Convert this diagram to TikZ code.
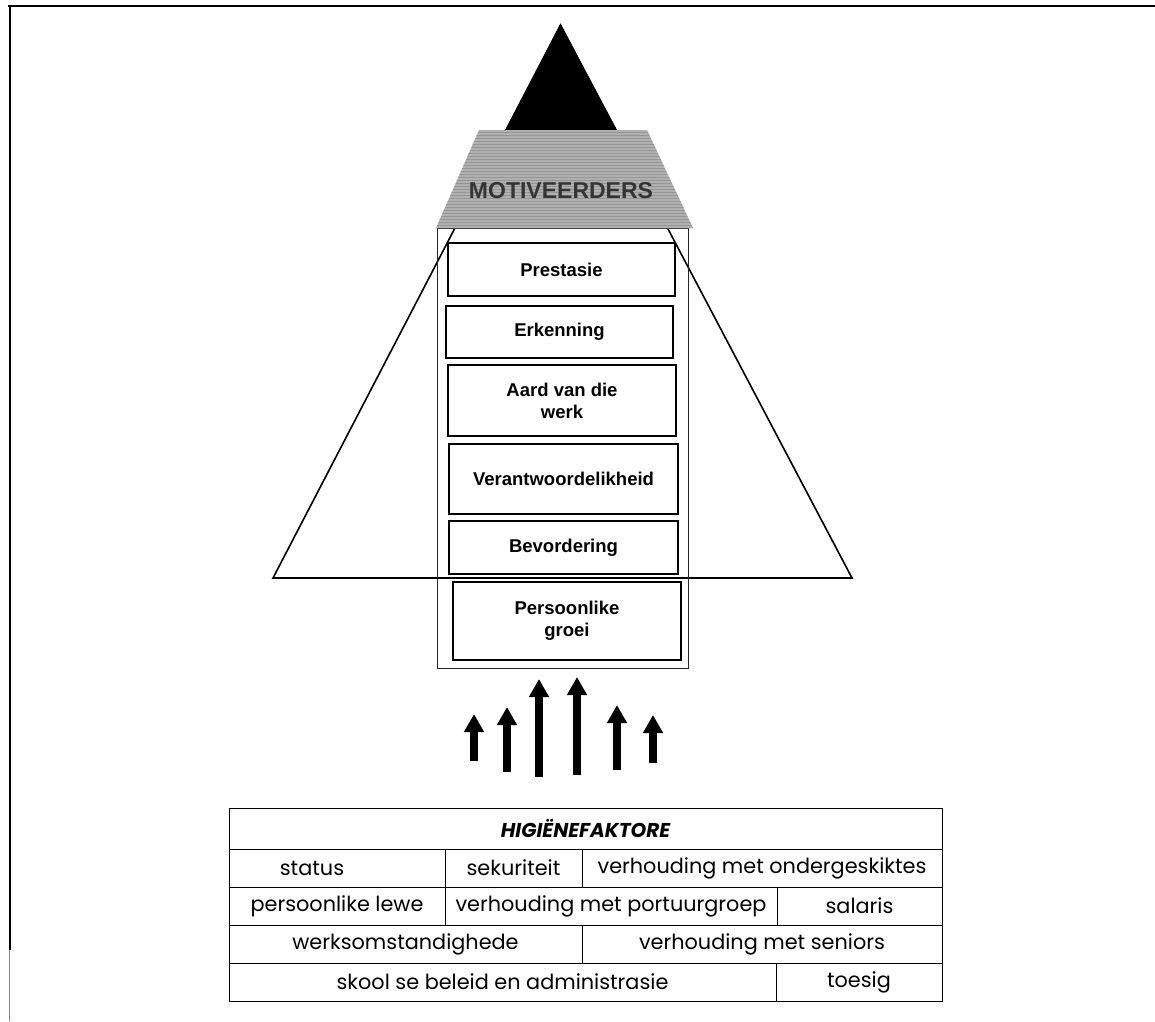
\documentclass[tikz,border=0pt]{standalone}
\usepackage{fontspec}
\setmainfont{Liberation Sans}
\newfontfamily\tablefont{Poppins}
\usetikzlibrary{arrows.meta,patterns}

\definecolor{trapgray}{RGB}{176,176,176}
\definecolor{trapline}{RGB}{150,150,150}
\definecolor{titlegray}{RGB}{52,52,52}

\begin{document}
\begin{tikzpicture}[x=1pt,y=-1pt,
  factor/.style={draw=black, line width=1.6pt, fill=white, align=center,
    inner sep=0pt, font=\bfseries\fontsize{18.5}{22}\selectfont},
  cell/.style={draw=black, line width=1pt, inner sep=0pt,
    font=\tablefont\fontsize{20.8}{24}\selectfont},
  headcell/.style={cell, font=\tablefont\bfseries\itshape\fontsize{20}{24}\selectfont},
  lift/.style={line width=7.5pt, -{Triangle[width=19pt,length=18pt]}},
]
\useasboundingbox (0,0) rectangle (1155,1021);

% page frame
\draw[line width=2.5pt] (8,6) -- (1155,6);
\draw[line width=2pt] (9.5,5) -- (9.5,950);
\draw[line width=1pt, gray] (9.5,950) -- (9.5,1021);

% large outline triangle behind everything
\draw[line width=1.6pt] (560.5,25) -- (273,578) -- (852,578) -- cycle;

% column holding the motivators
\node[draw=black!85, line width=1pt, minimum width=251, minimum height=440,
  inner sep=0pt] (column) at (562.5,448) {};

% motivator boxes
\node[factor, minimum width=227, minimum height=53] (prestasie) at (561.5,269.5) {Prestasie};
\node[factor, minimum width=227, minimum height=52] (erkenning) at (559.5,332) {Erkenning};
\node[factor, minimum width=228, minimum height=71] (aard) at (562,400.5) {Aard van die\\werk};
\node[factor, minimum width=229, minimum height=70] (verantw) at (563.5,479) {Verantwoordelikheid};
\node[factor, minimum width=229, minimum height=53] (bevord) at (563.5,547.5) {Bevordering};
\node[factor, minimum width=228, minimum height=78] (groei) at (567,621) {Persoonlike\\groei};

% pyramid top: black apex and grey band
\fill[black] (560.5,24) -- (617,130) -- (506,130) -- cycle;
\fill[trapgray] (479,130) -- (647,130) -- (693,228) -- (436,228) -- cycle;
\fill[pattern=horizontal lines, pattern color=trapline] (479,130) -- (647,130) -- (693,228) -- (436,228) -- cycle;
\node[font=\bfseries\fontsize{23}{26}\selectfont, text=titlegray] (motiv) at (561,191) {MOTIVEERDERS};

% upward arrows from the hygiene factors
\coordinate (a1s) at (474,761); \coordinate (a1e) at (474,714);
\coordinate (a2s) at (507,772); \coordinate (a2e) at (507,707);
\coordinate (a3s) at (539,777); \coordinate (a3e) at (539,679);
\coordinate (a4s) at (577,775); \coordinate (a4e) at (577,677);
\coordinate (a5s) at (617,770); \coordinate (a5e) at (617,705);
\coordinate (a6s) at (653,763); \coordinate (a6e) at (653,715);
\draw[lift] (a1s) -- (a1e);
\draw[lift] (a2s) -- (a2e);
\draw[lift] (a3s) -- (a3e);
\draw[lift] (a4s) -- (a4e);
\draw[lift] (a5s) -- (a5e);
\draw[lift] (a6s) -- (a6e);

% hygiene factor table
\node[headcell, minimum width=713, minimum height=41] (hig) at (585.5,828.5) {HIGIËNEFAKTORE};

\node[cell, minimum width=216, minimum height=38] (status) at (337,868) {\hspace*{-50pt}status};
\node[cell, minimum width=137, minimum height=38] (sekur) at (513.5,868) {sekuriteit};
\node[cell, minimum width=360, minimum height=38] (onder) at (762,868) {verhouding met ondergeskiktes};

\node[cell, minimum width=216, minimum height=38] (lewe) at (337,906) {persoonlike lewe};
\node[cell, minimum width=332, minimum height=38] (portuur) at (611,906) {verhouding met portuurgroep};
\node[cell, minimum width=165, minimum height=38] (salaris) at (859.5,906) {salaris};

\node[cell, minimum width=353, minimum height=38] (werks) at (405.5,944) {werksomstandighede};
\node[cell, minimum width=360, minimum height=38] (seniors) at (762,944) {verhouding met seniors};

\node[cell, minimum width=547, minimum height=38] (skool) at (502.5,982) {skool se beleid en administrasie};
\node[cell, minimum width=166, minimum height=38] (toesig) at (859,982) {toesig};
\end{tikzpicture}
\end{document}
